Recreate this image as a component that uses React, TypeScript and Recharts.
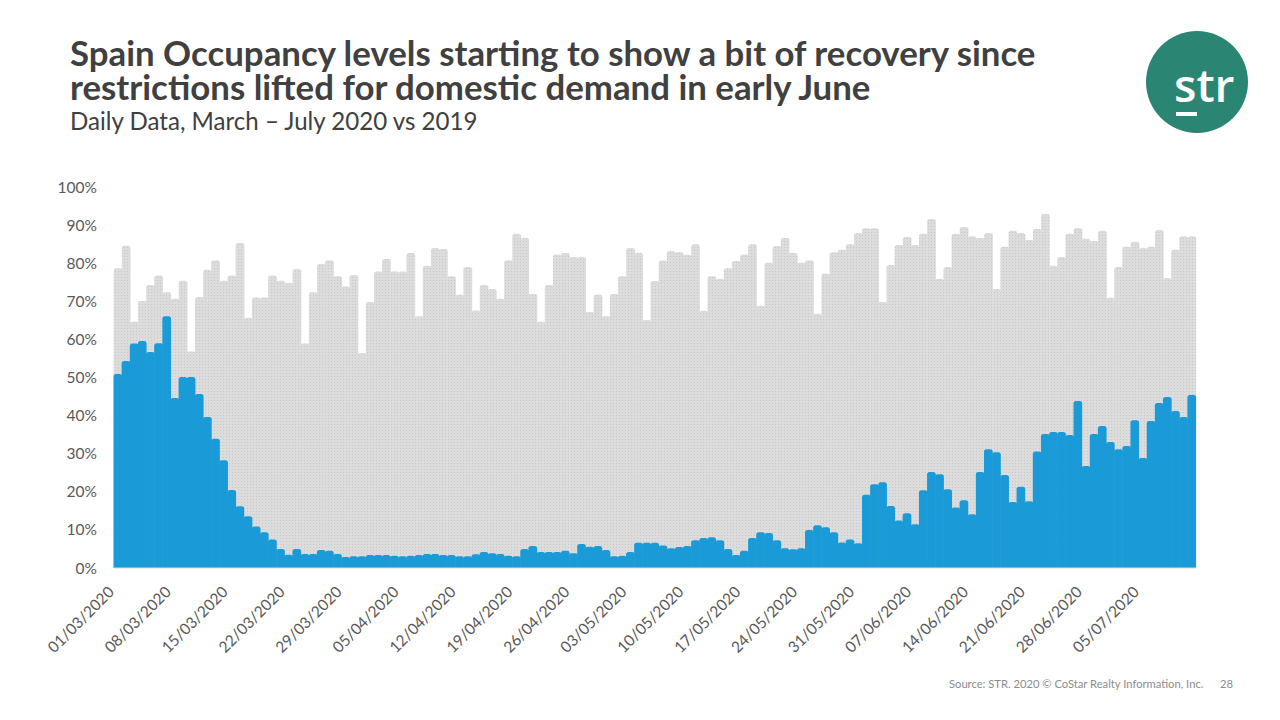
import React from 'react';
import { BarChart, Bar, XAxis, YAxis } from 'recharts';

const MONTHS: [string, number][] = [
  ['03', 31],
  ['04', 30],
  ['05', 31],
  ['06', 30],
  ['07', 11],
];
const DATES: string[] = [];
MONTHS.forEach(([m, n]) => {
  for (let d = 1; d <= n; d++) DATES.push(`${String(d).padStart(2, '0')}/${m}/2020`);
});

const OCC_2019 = [
  78.7, 84.6, 64.6, 70.1, 74.3, 76.8, 72.4, 70.7, 75.4, 56.8,
  71.1, 78.3, 80.8, 75.4, 76.8, 85.3, 65.7, 71.0, 71.0, 76.8,
  75.4, 74.8, 78.5, 58.9, 72.4, 79.8, 80.8, 76.6, 73.9, 76.9,
  56.4, 69.8, 77.8, 81.1, 77.8, 77.8, 82.7, 66.1, 79.3, 84.0,
  83.7, 76.6, 71.7, 79.0, 67.6, 74.3, 73.2, 70.7, 80.8, 87.7,
  86.6, 71.9, 64.6, 74.3, 82.3, 82.7, 81.6, 81.6, 67.2, 71.7,
  66.1, 71.9, 76.6, 84.0, 82.7, 65.1, 75.3, 80.7, 83.2, 82.9,
  82.2, 85.0, 67.5, 76.6, 75.9, 78.7, 80.6, 82.3, 85.0, 68.8,
  80.1, 84.5, 86.6, 82.7, 80.1, 80.8, 66.7, 77.2, 82.9, 83.5,
  85.0, 87.9, 89.2, 89.2, 69.8, 79.5, 84.8, 86.9, 84.8, 87.7,
  91.6, 75.9, 79.0, 87.7, 89.5, 87.1, 86.6, 87.9, 73.2, 84.3,
  88.5, 87.9, 86.1, 89.0, 92.9, 79.3, 81.6, 87.7, 89.2, 86.4,
  85.8, 88.5, 70.9, 79.0, 84.3, 85.6, 84.0, 84.3, 88.7, 76.1,
  83.5, 87.1, 87.1,
];

const OCC_2020 = [
  50.9, 54.3, 58.9, 59.6, 56.7, 59.0, 66.1, 44.6, 50.1, 50.1,
  45.7, 39.6, 33.9, 28.3, 20.5, 16.2, 13.6, 10.9, 9.4, 7.5,
  5.0, 3.5, 5.0, 3.7, 3.7, 4.7, 4.5, 3.7, 2.9, 3.1,
  3.1, 3.4, 3.4, 3.4, 3.2, 3.1, 3.2, 3.4, 3.7, 3.7,
  3.4, 3.4, 3.1, 3.1, 3.6, 4.2, 3.9, 3.7, 3.2, 3.1,
  5.0, 5.8, 4.2, 4.2, 4.2, 4.5, 3.9, 6.3, 5.6, 5.8,
  4.7, 3.1, 3.2, 4.2, 6.6, 6.6, 6.6, 5.9, 5.2, 5.5,
  5.8, 7.3, 7.9, 8.1, 7.3, 5.0, 3.4, 4.5, 7.9, 9.4,
  9.2, 7.3, 5.2, 4.9, 5.2, 10.0, 11.2, 10.7, 9.4, 6.7,
  7.5, 6.5, 19.2, 22.0, 22.5, 16.3, 12.5, 14.4, 11.5, 20.4,
  25.2, 24.6, 20.7, 15.9, 17.8, 14.1, 25.2, 31.2, 30.4, 24.4,
  17.3, 21.3, 17.5, 30.6, 35.2, 35.7, 35.7, 34.9, 43.8, 26.8,
  35.2, 37.3, 33.1, 31.2, 32.0, 38.8, 28.9, 38.6, 43.3, 44.9,
  41.2, 39.6, 45.4,
];

const Y_TICKS = [0, 10, 20, 30, 40, 50, 60, 70, 80, 90, 100];

const TITLE_LINES = [
  'Spain Occupancy levels starting to show a bit of recovery since',
  'restrictions lifted for domestic demand in early June',
];
const SUBTITLE = 'Daily Data, March \u2013 July 2020 vs 2019';
const SOURCE = 'Source: STR. 2020 \u00A9 CoStar Realty Information, Inc.';
const PAGE_NO = '28';

const data = DATES.map((date, i) => ({ date, y2019: OCC_2019[i], y2020: OCC_2020[i] }));

const FONT = 'Lato, "Open Sans", sans-serif';

const XTick = (props: any) => {
  const { x, y, payload } = props;
  const ax = x - 3;
  const ay = y + 25;
  return (
    <text
      x={ax}
      y={ay}
      transform={`rotate(-45 ${ax} ${ay})`}
      textAnchor="end"
      fill="#595959"
      fontSize={15.5}
      fontFamily={FONT}
    >
      {payload.value}
    </text>
  );
};

// Bar with slightly rounded top, widened a hair so adjacent days join without seams
const RoundTopBar = (props: any) => {
  const { x, y, width, height, fill } = props;
  if (!height || height <= 0) return null;
  const pad = 0.35;
  const x0 = x - pad;
  const w = width + pad * 2;
  const r = Math.min(2.5, w / 2, height);
  const b = y + height;
  const d = `M${x0},${b} L${x0},${y + r} Q${x0},${y} ${x0 + r},${y} L${x0 + w - r},${y} Q${x0 + w},${y} ${x0 + w},${y + r} L${x0 + w},${b} Z`;
  return <path d={d} fill={fill} />;
};

export default function App() {
  return (
    <div style={{ position: 'absolute', left: 0, top: 0, width: 1280, height: 720, background: '#fff', overflow: 'hidden' }}>
      <svg width={1280} height={720} style={{ position: 'absolute', left: 0, top: 0 }}>
        <defs>
          <pattern id="dots2019" width={3} height={3} patternUnits="userSpaceOnUse">
            <rect x={0} y={0} width={3} height={3} fill="#dcdcdc" />
            <rect x={1} y={1} width={1} height={1} fill="#c8c8c8" />
          </pattern>
        </defs>
        <text fontFamily={FONT} fontWeight={700} fontSize={34.8} fill="#404040">
          <tspan x={70} y={66}>{TITLE_LINES[0]}</tspan>
          <tspan x={70} y={100}>{TITLE_LINES[1]}</tspan>
        </text>
        <text x={70} y={130} fontFamily={FONT} fontSize={24.1} fill="#404040">
          {SUBTITLE}
        </text>
        <circle cx={1197} cy={82} r={51} fill="#2b8573" />
        <text x={1174} y={102} fontFamily='"Open Sans", sans-serif' fontWeight={600} fontSize={46} fill="#ffffff">
          str
        </text>
        <rect x={1176} y={112} width={21} height={4} fill="#ffffff" />
        <text x={949} y={688} fontFamily={FONT} fontSize={11.2} fill="#8c8c8c">
          {SOURCE}
        </text>
        <text x={1220} y={688} fontFamily={FONT} fontSize={11.2} fill="#8c8c8c">
          {PAGE_NO}
        </text>
      </svg>
      <div style={{ position: 'absolute', left: 0, top: 0 }}>
        <BarChart
          width={1280}
          height={720}
          data={data}
          margin={{ top: 187, right: 84, bottom: 0, left: 0 }}
          barCategoryGap={0}
          barGap="-100%"
        >
          <XAxis
            dataKey="date"
            interval={6}
            tickLine={false}
            tickSize={0}
            tickMargin={0}
            height={152}
            axisLine={{ stroke: '#d9d9d9', strokeWidth: 1 }}
            tick={<XTick />}
          />
          <YAxis
            width={114}
            domain={[0, 100]}
            ticks={Y_TICKS}
            axisLine={false}
            tickLine={false}
            tickSize={0}
            tickMargin={17}
            tickFormatter={(v: number) => `${v}%`}
            tick={{ fill: '#595959', fontSize: 15.5, fontFamily: FONT }}
          />
          <Bar dataKey="y2019" fill="url(#dots2019)" shape={<RoundTopBar />} isAnimationActive={false} />
          <Bar dataKey="y2020" fill="#1a9bd7" shape={<RoundTopBar />} isAnimationActive={false} />
        </BarChart>
      </div>
    </div>
  );
}
